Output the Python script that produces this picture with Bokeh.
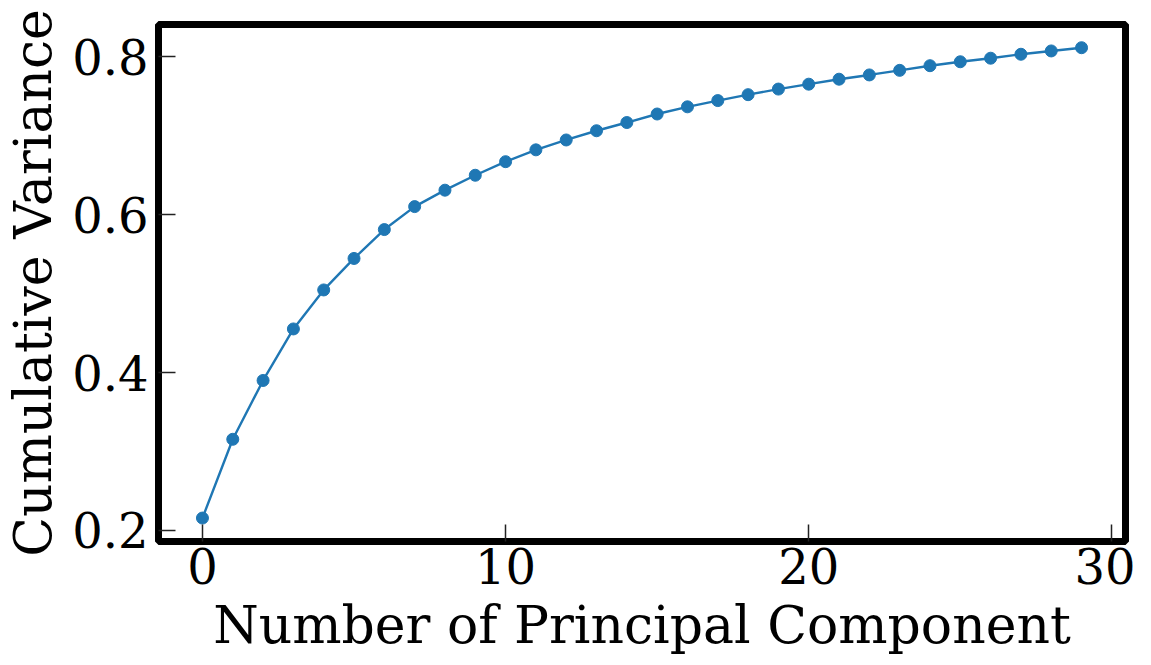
from bokeh.plotting import figure
from bokeh.embed import file_html
from bokeh.resources import INLINE
from bokeh.models import Range1d, FixedTicker

components = list(range(30))
cum_variance = [0.2157, 0.3155, 0.3900, 0.4553, 0.5047, 0.5446, 0.5812, 0.6103,
                0.6311, 0.6500, 0.6672, 0.6822, 0.6947, 0.7064, 0.7168, 0.7276,
                0.7367, 0.7446, 0.7521, 0.7592, 0.7654, 0.7717, 0.7771, 0.7829,
                0.7888, 0.7938, 0.7983, 0.8033, 0.8075, 0.8116]
x_ticks = [0, 10, 20, 30]
y_ticks = [0.2, 0.4, 0.6, 0.8]

FONT = "DejaVu Serif"

p = figure(width=1135, height=657, output_backend="svg", toolbar_location=None,
           x_range=Range1d(-1.45, 30.45), y_range=Range1d(0.186, 0.841),
           min_border_left=152, min_border_right=10, min_border_top=24,
           min_border_bottom=107)
p.background_fill_color = "white"
p.border_fill_color = "white"
p.outline_line_color = "black"
p.outline_line_width = 7
p.grid.visible = False

p.line(components, cum_variance, line_color="#1f77b4", line_width=2.4)
p.scatter(components, cum_variance, size=12, fill_color="#1f77b4", line_color="#1f77b4")

for ax in (p.xaxis[0], p.yaxis[0]):
    ax.axis_line_color = None
    ax.major_tick_in = 17
    ax.major_tick_out = 0
    ax.major_tick_line_color = "#222222"
    ax.major_tick_line_width = 1.5
    ax.minor_tick_line_color = None
    ax.major_label_text_font = FONT
    ax.major_label_text_font_size = "48px"
    ax.major_label_text_color = "black"
    ax.axis_label_text_font = FONT
    ax.axis_label_text_font_size = "52px"
    ax.axis_label_text_font_style = "normal"
    ax.axis_label_text_color = "black"

p.xaxis[0].ticker = FixedTicker(ticks=x_ticks)
p.yaxis[0].ticker = FixedTicker(ticks=y_ticks)
p.xaxis[0].axis_label = "Number of Principal Component"
p.yaxis[0].axis_label = "Cumulative Variance"
p.xaxis[0].major_label_standoff = 6
p.yaxis[0].major_label_standoff = 10
p.xaxis[0].axis_label_standoff = 8
p.yaxis[0].axis_label_standoff = 6

open("out.html", "w").write(file_html(p, INLINE))
